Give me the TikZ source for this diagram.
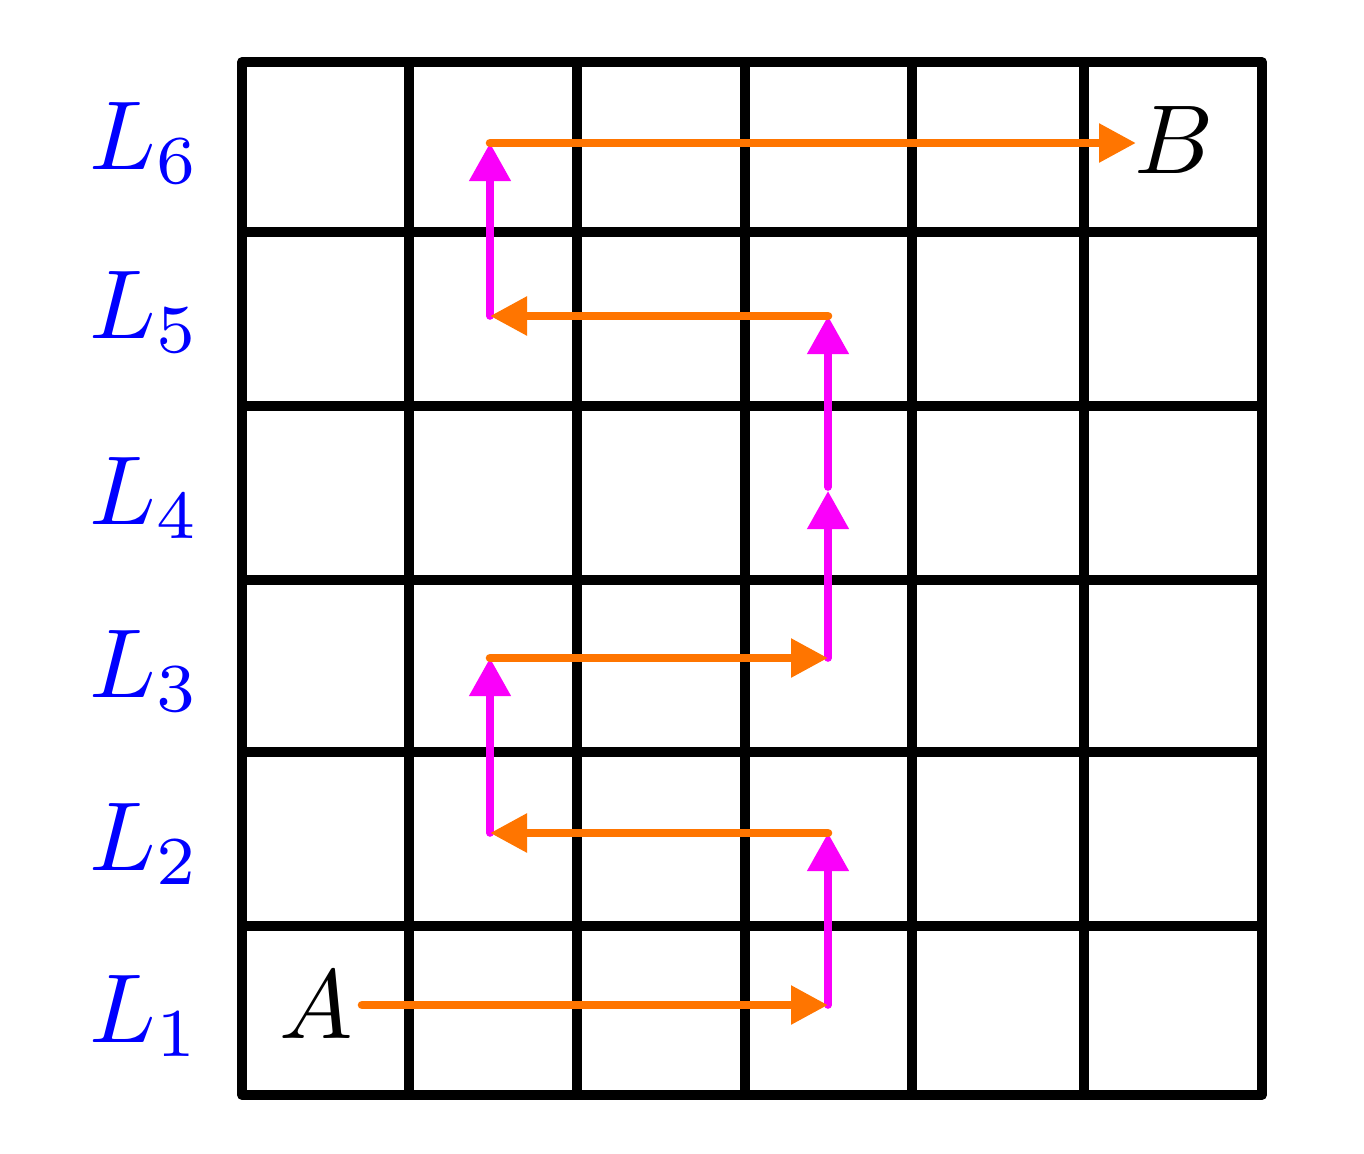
\documentclass[tikz,border=0pt]{standalone}
\usetikzlibrary{arrows.meta}
\definecolor{pathorange}{RGB}{255,117,0}
\definecolor{pathmagenta}{RGB}{250,0,250}
\newcommand{\biglabel}[1]{\scalebox{4.9}{$#1$}}
\begin{document}
\begin{tikzpicture}[x=0.5pt,y=-0.5pt,
  gridline/.style={line width=4.9pt, black, line cap=round, line join=round},
  horizarrow/.style={line width=4.3pt, pathorange, line cap=round, -{Triangle[length=18.5pt,width=18.5pt]}},
  vertarrow/.style={line width=3.8pt, pathmagenta, line cap=round, -{Triangle[length=19pt,width=20pt]}},
  levellabel/.style={text=blue, anchor=base, inner sep=0pt},
  pointlabel/.style={text=black, anchor=base, inner sep=0pt}]
\useasboundingbox (0,0) rectangle (1364,1153);
\fill[white] (0,0) rectangle (1364,1153);
% grid
\foreach \x in {409,577,745,912,1084} \draw[gridline] (\x,62) -- (\x,1095);
\foreach \y in {232,406,580,752,926} \draw[gridline] (242,\y) -- (1262,\y);
\draw[gridline] (242,62) rectangle (1262,1095);
% level labels
\node[levellabel] (L6) at (145,169) {\biglabel{L_6}};
\node[levellabel] (L5) at (145,338) {\biglabel{L_5}};
\node[levellabel] (L4) at (145,524) {\biglabel{L_4}};
\node[levellabel] (L3) at (145,697) {\biglabel{L_3}};
\node[levellabel] (L2) at (145,870) {\biglabel{L_2}};
\node[levellabel] (L1) at (145,1042) {\biglabel{L_1}};
% points
\node[pointlabel] (A) at (316,1038) {\biglabel{A}};
\node[pointlabel] (B) at (1174,173) {\biglabel{B}};
% path coordinates
\coordinate (p0) at (362,1005);
\coordinate (p1) at (828,1005);
\coordinate (p2) at (828,833);
\coordinate (p3) at (490,833);
\coordinate (p4) at (490,658);
\coordinate (p5) at (828,658);
\coordinate (p6) at (828,491);
\coordinate (p6b) at (828,487);
\coordinate (p7) at (828,316);
\coordinate (p8) at (490,316);
\coordinate (p9) at (490,143);
\coordinate (p10) at (1136,143);
% connectors
\draw[vertarrow] (p1) -- (p2);
\draw[vertarrow] (p3) -- (p4);
\draw[vertarrow] (p5) -- (p6);
\draw[vertarrow] (p6b) -- (p7);
\draw[vertarrow] (p8) -- (p9);
\draw[horizarrow] (p0) -- (p1);
\draw[horizarrow] (p2) -- (p3);
\draw[horizarrow] (p4) -- (p5);
\draw[horizarrow] (p7) -- (p8);
\draw[horizarrow] (p9) -- (p10);
\end{tikzpicture}
\end{document}
